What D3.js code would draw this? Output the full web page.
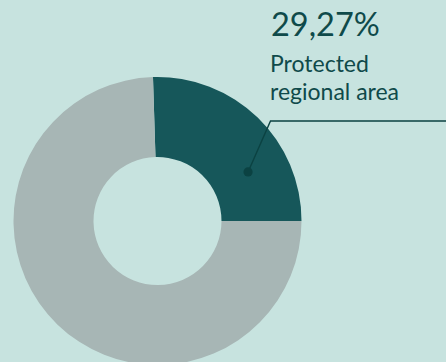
<!DOCTYPE html>
<html>
<head>
<meta charset="utf-8">
<script src="https://cdn.jsdelivr.net/npm/d3@7"></script>
<style>
  html, body { margin: 0; padding: 0; background: #c7e3df; }
  svg { display: block; }
</style>
</head>
<body>
<svg id="chart" width="446" height="362"></svg>
<script>
// Data (slice shares as drawn in the picture; label as printed)
const categories = ["Protected regional area", "Other area"];
const shares = [25.5, 74.5];
const labelValue = "29,27%";
const labelLines = ["Protected", "regional area"];

const W = 446, H = 362;
const cx = 157.5, cy = 221, rOuter = 144, rInner = 64;
const colors = ["#16575a", "#a7b6b5"];
const textColor = "#0f4a4a";

const svg = d3.select("#chart");
svg.append("rect").attr("width", W).attr("height", H).attr("fill", "#c7e3df");

const pie = d3.pie().sort(null).value(d => d)
  .startAngle(-0.0314).endAngle(-0.0314 + 2 * Math.PI);
const arc = d3.arc().innerRadius(rInner).outerRadius(rOuter);

const g = svg.append("g").attr("transform", `translate(${cx},${cy})`);
g.selectAll("path").data(pie(shares)).join("path")
  .attr("d", arc)
  .attr("fill", (d, i) => colors[i]);

// Annotation: dot inside the protected slice, leader line to the right edge
const arcs = pie(shares);
const a0 = arcs[0];
const dotAngle = a0.startAngle + (a0.endAngle - a0.startAngle) * 0.69;
const dotR = 103;
const dx = cx + dotR * Math.sin(dotAngle);
const dy = cy - dotR * Math.cos(dotAngle);
const elbowX = 270.5, elbowY = 121;

svg.append("path")
  .attr("d", `M${dx},${dy}L${elbowX},${elbowY}L${W},${elbowY}`)
  .attr("fill", "none")
  .attr("stroke", "#0b4242")
  .attr("stroke-width", 1.4);
svg.append("circle")
  .attr("cx", dx).attr("cy", dy).attr("r", 4.6)
  .attr("fill", "#0b4242");

const font = "Lato, 'Noto Sans', sans-serif";
svg.append("text")
  .attr("x", 271).attr("y", 36)
  .attr("font-family", font)
  .attr("font-size", 32.5)
  .attr("font-weight", 400)
  .attr("fill", textColor)
  .text(labelValue);

svg.append("text")
  .attr("font-family", font)
  .attr("font-size", 23)
  .attr("font-weight", 400)
  .attr("fill", textColor)
  .selectAll("tspan").data(labelLines).join("tspan")
  .attr("x", 270)
  .attr("y", (d, i) => 71.5 + i * 28.5)
  .text(d => d);
</script>
</body>
</html>
